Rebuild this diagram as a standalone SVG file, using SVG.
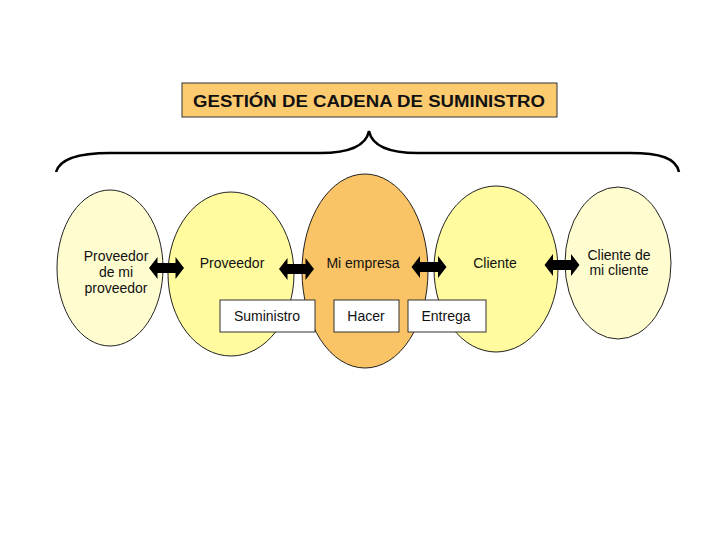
<svg xmlns="http://www.w3.org/2000/svg" width="720" height="540" viewBox="0 0 720 540">
<style>
text{font-family:"Liberation Sans",Arial,sans-serif;fill:#111;}
.lbl{font-size:14px;text-anchor:middle;}
.ell{stroke:#222;stroke-width:1;}
.box{fill:#fff;stroke:#333;stroke-width:1;}
.arr{fill:#000;}
</style>
<defs>
<path id="dbl" d="M-17.5,0 L-9,-11 L-9,-5 L9,-5 L9,-11 L17.5,0 L9,11 L9,5 L-9,5 L-9,11 Z"/>
</defs>
<rect width="720" height="540" fill="#fff"/>
<g id="title">
<rect x="182" y="83" width="375" height="34" fill="#FCCB70" stroke="#333" stroke-width="1"/>
<text x="369" y="107" font-size="16" font-weight="bold" text-anchor="middle" textLength="352" lengthAdjust="spacingAndGlyphs">GESTIÓN DE CADENA DE SUMINISTRO</text>
</g>
<g id="brace" fill="none" stroke="#000" stroke-width="2.5">
<path d="M56,172 C60,158 80,153 110,153 L320,153 C350,153 366,146 369,131 C372,146 388,153 418,153 L630,153 C660,153 676,158 679,172"/>
</g>
<g id="n1"><ellipse class="ell" cx="110" cy="268" rx="53" ry="78" fill="#FFFDCF"/>
<text class="lbl" x="116" y="261">Proveedor</text><text class="lbl" x="116" y="277">de mi</text><text class="lbl" x="116" y="293">proveedor</text></g>
<g id="n2"><ellipse class="ell" cx="231" cy="274" rx="63" ry="82" fill="#FFFB9E"/>
<text class="lbl" x="232" y="268">Proveedor</text></g>
<g id="n4"><ellipse class="ell" cx="496" cy="269" rx="62" ry="83" fill="#FFFB9E"/>
<text class="lbl" x="495" y="268">Cliente</text></g>
<g id="n3"><ellipse class="ell" cx="365" cy="271" rx="63" ry="97" fill="#FAC466"/>
<text class="lbl" x="363" y="268">Mi empresa</text></g>
<g id="n5"><ellipse class="ell" cx="618" cy="263" rx="53" ry="76" fill="#FFFDCF"/>
<text class="lbl" x="619" y="260">Cliente de</text><text class="lbl" x="619" y="275">mi cliente</text></g>
<g id="connectors">
<use href="#dbl" class="arr" transform="translate(166.5,268)"/>
<use href="#dbl" class="arr" transform="translate(296.5,269)"/>
<use href="#dbl" class="arr" transform="translate(429,267)"/>
<use href="#dbl" class="arr" transform="translate(562,265)"/>
</g>
<g id="b1"><rect class="box" x="220" y="300" width="95" height="32"/><text class="lbl" x="267" y="321">Suministro</text></g>
<g id="b2"><rect class="box" x="334" y="300" width="65" height="32"/><text class="lbl" x="366" y="321">Hacer</text></g>
<g id="b3"><rect class="box" x="408" y="300" width="78" height="32"/><text class="lbl" x="446" y="321">Entrega</text></g>
</svg>
